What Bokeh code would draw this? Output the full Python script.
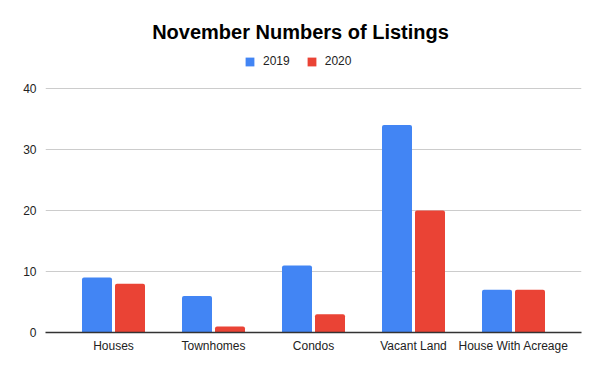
from bokeh.plotting import figure
from bokeh.models import ColumnDataSource, FactorRange, FixedTicker, Legend, LegendItem, Label, Range1d
from bokeh.transform import dodge
from bokeh.embed import file_html
from bokeh.resources import INLINE

categories = ["Houses", "Townhomes", "Condos", "Vacant Land", "House With Acreage"]
values_2019 = [9, 6, 11, 34, 7]
values_2020 = [8, 1, 3, 20, 7]
series = ["2019", "2020"]
y_ticks = [0, 10, 20, 30, 40]
title_text = "November Numbers of Listings"

BLUE = "#4285F4"
RED = "#EA4335"
FONT = "Liberation Sans"

W, H = 592, 363
BL, BR, BT, BB = 45, 11, 10, 31
frame_h = H - BT - BB
px_per_unit = 244 / 40.0

src = ColumnDataSource(dict(cat=categories, y2019=values_2019, y2020=values_2020))

p = figure(width=W, height=H,
           x_range=FactorRange(*categories, range_padding=0.072),
           y_range=Range1d(0, frame_h / px_per_unit),
           output_backend="svg", toolbar_location=None,
           min_border_left=BL, min_border_right=BR,
           min_border_top=BT, min_border_bottom=BB)
p.outline_line_color = None
p.background_fill_color = "white"
p.border_fill_color = "white"

p.xgrid.grid_line_color = None
p.ygrid.grid_line_color = "#cccccc"
p.ygrid.grid_line_width = 1
p.yaxis.ticker = FixedTicker(ticks=y_ticks)
p.yaxis.axis_line_color = None
p.yaxis.major_tick_line_color = None
p.yaxis.minor_tick_line_color = None
p.yaxis.major_label_standoff = 3
p.yaxis.major_label_text_font = FONT
p.yaxis.major_label_text_font_size = "12px"
p.yaxis.major_label_text_color = "#222222"

p.xaxis.axis_line_color = "#333333"
p.xaxis.axis_line_width = 1.5
p.xaxis.major_tick_line_color = None
p.xaxis.minor_tick_line_color = None
p.xaxis.major_label_standoff = 0
p.xaxis.major_label_text_font = FONT
p.xaxis.major_label_text_font_size = "12px"
p.xaxis.major_label_text_color = "#222222"

r1 = p.vbar(x=dodge("cat", -0.165, range=p.x_range), top="y2019", width=0.30,
            source=src, fill_color=BLUE, line_color=None, border_radius=(2, 2, 0, 0))
r2 = p.vbar(x=dodge("cat", 0.165, range=p.x_range), top="y2020", width=0.30,
            source=src, fill_color=RED, line_color=None, border_radius=(2, 2, 0, 0))

legend = Legend(items=[LegendItem(label=series[0], renderers=[r1]),
                       LegendItem(label=series[1], renderers=[r2])],
                orientation="horizontal", location=(199, 264),
                glyph_width=11, glyph_height=11, label_standoff=8, spacing=16,
                padding=0, margin=0, border_line_color=None,
                background_fill_alpha=0,
                label_text_font=FONT, label_text_font_size="12px",
                label_text_color="#222222")
p.add_layout(legend, "center")

title = Label(x=255, y=301, x_units="screen", y_units="screen", text=title_text,
              text_align="center", text_baseline="middle", text_font=FONT,
              text_font_size="20px", text_font_style="bold", text_color="#000000")
p.add_layout(title)

open("out.html", "w").write(file_html(p, INLINE))
